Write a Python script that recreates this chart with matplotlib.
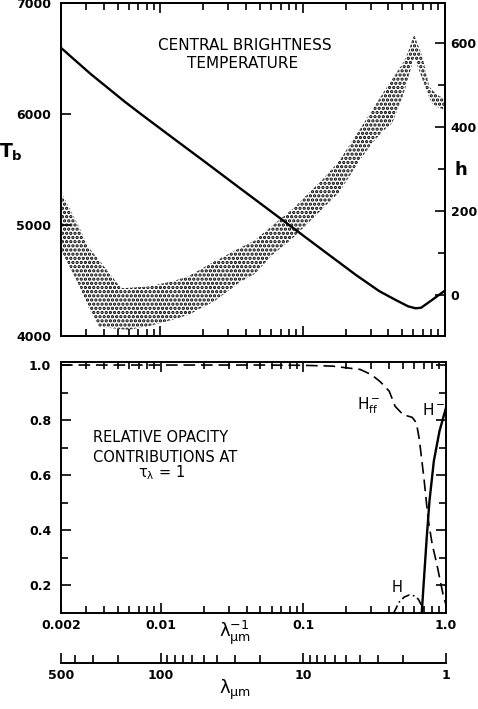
import numpy as np
import matplotlib
matplotlib.use("Agg")
import matplotlib.pyplot as plt
from matplotlib.ticker import FixedLocator, NullFormatter, LogLocator

plt.rcParams['font.family'] = ['DejaVu Sans']
plt.rcParams['hatch.linewidth'] = 1.6

# central brightness temperature (left axis), x = 1/lambda in um^-1
tb_x = [0.002, 0.0025, 0.00326, 0.0043, 0.0056, 0.00716, 0.01227, 0.021,
        0.036, 0.0616, 0.0851, 0.138, 0.237, 0.345, 0.45, 0.55, 0.62, 0.68,
        0.8, 1.0]
tb_val = [6600, 6490, 6360, 6235, 6115, 6010, 5785, 5562,
          5336, 5112, 4977, 4775, 4550, 4405, 4325, 4268, 4250, 4255,
          4320, 4410]

# stippled band for h (right axis)
h_x = [0.002, 0.0027, 0.0031, 0.0037, 0.0053, 0.006, 0.0082, 0.012, 0.0156,
       0.024, 0.036, 0.046, 0.061, 0.085, 0.1375, 0.181, 0.25, 0.308, 0.364,
       0.426, 0.5, 0.534, 0.607, 0.692, 0.775, 0.812, 0.9, 1.0]
h_high = [246, 160, 115, 83, 16, 17, 20, 32, 44,
          80, 112, 130, 165, 205, 275, 320, 393, 441, 480,
          515, 550, 568, 620, 570, 497, 489, 475, 468]
h_low = [107, 20, -28, -76, -82, -83, -75, -60, -48,
         -15, 30, 50, 95, 135, 205, 245, 320, 362, 390,
         410, 470, 500, 568, 515, 470, 457, 447, 441]

# relative opacity contributions at tau = 1
hff_x = [0.002, 0.01, 0.05, 0.1, 0.16, 0.25, 0.3, 0.345, 0.4, 0.44, 0.5,
         0.58, 0.62, 0.65, 0.7, 0.75, 0.8, 0.86, 0.96, 1.0]
hff_val = [1.0, 1.0, 1.0, 0.999, 0.996, 0.984, 0.965, 0.94, 0.905, 0.85, 0.82,
           0.81, 0.79, 0.73, 0.59, 0.44, 0.35, 0.28, 0.16, 0.13]
hm_x = [0.676, 0.70, 0.733, 0.766, 0.822, 0.9, 1.0]
hm_val = [0.1, 0.22, 0.375, 0.507, 0.652, 0.76, 0.845]
h_atom_x = [0.43, 0.47, 0.51, 0.55, 0.60, 0.64, 0.67, 0.70]
h_atom_val = [0.10, 0.14, 0.158, 0.165, 0.162, 0.15, 0.13, 0.10]

W, H = 478, 709


def px(x, y):
    # pixel position -> figure fraction
    return x / W, 1 - y / H


def style(ax):
    for s in ax.spines.values():
        s.set_linewidth(1.4)
    ax.tick_params(which='both', direction='in', width=1.2, labelsize=9)
    ax.tick_params(which='major', length=7)
    ax.tick_params(which='minor', length=5)
    for lab in ax.get_xticklabels() + ax.get_yticklabels():
        lab.set_fontweight('bold')


fig = plt.figure(figsize=(W / 100, H / 100), dpi=100)

# ---- top panel
ax1 = fig.add_axes([61 / W, 1 - 336 / H, 384 / W, 332.5 / H])
ax1.set_xscale('log')
ax1.set_xlim(0.002, 1.0)
ax1.set_ylim(4000, 7000)
ax1.plot(tb_x, tb_val, color='black', lw=1.7, zorder=3)
ax1.set_yticks([4000, 5000, 6000, 7000])
ax1.xaxis.set_major_formatter(NullFormatter())
ax1.xaxis.set_minor_formatter(NullFormatter())
style(ax1)
ax1.tick_params(axis='x', which='both', top=True, bottom=True)
ax1.tick_params(axis='y', pad=7)

axh = ax1.twinx()
axh.set_ylim(-98, 695)
axh.fill_between(h_x, h_low, h_high, facecolor='white', edgecolor='black',
                 hatch='....', linewidth=0)
axh.set_yticks([0, 200, 400, 600])
axh.yaxis.set_minor_locator(FixedLocator([100, 300, 500]))
style(axh)
axh.tick_params(axis='y', pad=4)
ax1.set_zorder(axh.get_zorder() + 1)
ax1.patch.set_visible(False)

fig.text(*px(245, 45), 'CENTRAL BRIGHTNESS', ha='center', va='center', fontsize=11)
fig.text(*px(243, 63), 'TEMPERATURE', ha='center', va='center', fontsize=11)
fig.text(*px(11, 152), '$\\mathregular{T_b}$', ha='center', va='center',
         fontsize=13.5, fontweight='bold')
fig.text(*px(461, 170), 'h', ha='center', va='center', fontsize=13,
         fontweight='bold')

# ---- bottom panel
ax2 = fig.add_axes([61 / W, 1 - 613 / H, 385 / W, 251 / H])
ax2.set_xscale('log')
ax2.set_xlim(0.002, 1.0)
ax2.set_ylim(0.1, 1.011)
ax2.plot(hff_x, hff_val, color='black', lw=1.2, ls=(0, (7, 3.5)))
ax2.plot(hm_x, hm_val, color='black', lw=1.7)
ax2.plot(h_atom_x, h_atom_val, color='black', lw=1.2, ls=(0, (5, 2, 1, 2)))
ax2.set_yticks([0.2, 0.4, 0.6, 0.8, 1.0])
ax2.set_yticklabels(['0.2', '0.4', '0.6', '0.8', '1.0'])
ax2.yaxis.set_minor_locator(FixedLocator([0.3, 0.5, 0.7, 0.9]))
ax2.set_xticks([0.002, 0.01, 0.1, 1.0])
ax2.set_xticklabels(['0.002', '0.01', '0.1', '1.0'])
ax2.xaxis.set_minor_formatter(NullFormatter())
style(ax2)
ax2.tick_params(which='both', top=True, right=True)
ax2.tick_params(axis='y', pad=7)
ax2.tick_params(axis='x', pad=4)

fig.text(*px(93, 438), 'RELATIVE OPACITY', ha='left', va='center', fontsize=10.5)
fig.text(*px(93, 457), 'CONTRIBUTIONS AT', ha='left', va='center', fontsize=10.5)
fig.text(*px(138, 473), '$\\mathregular{\\tau_\\lambda}$ = 1', ha='left',
         va='center', fontsize=10.5)
fig.text(*px(369, 406), '$\\mathregular{H^-_{ff}}$', ha='center', va='center',
         fontsize=11)
fig.text(*px(434, 410), '$\\mathregular{H^-}$', ha='center', va='center',
         fontsize=11)
fig.text(*px(397, 588), 'H', ha='center', va='center', fontsize=10.5)
fig.text(*px(235, 633), '$\\mathregular{\\lambda^{-1}_{\\mu m}}$', ha='center',
         va='center', fontsize=13)

# ---- wavelength scale
ax3 = fig.add_axes([61 / W, 1 - 663 / H, 385 / W, 0.0001])
ax3.set_xscale('log')
ax3.set_xlim(500, 1)
for k in ['top', 'left', 'right']:
    ax3.spines[k].set_visible(False)
ax3.set_yticks([])
ax3.set_xticks([500, 100, 10, 1])
ax3.set_xticklabels(['500', '100', '10', '1'])
ax3.xaxis.set_minor_locator(LogLocator(subs=np.arange(2, 10)))
ax3.xaxis.set_minor_formatter(NullFormatter())
style(ax3)
ax3.tick_params(axis='x', which='both', direction='in', pad=4)
ax3.tick_params(axis='x', which='minor', length=6)
ax3.tick_params(axis='x', which='major', length=7)
fig.text(*px(235, 690), '$\\mathregular{\\lambda_{\\mu m}}$', ha='center',
         va='center', fontsize=13)

fig.savefig('out.png', dpi=100)
